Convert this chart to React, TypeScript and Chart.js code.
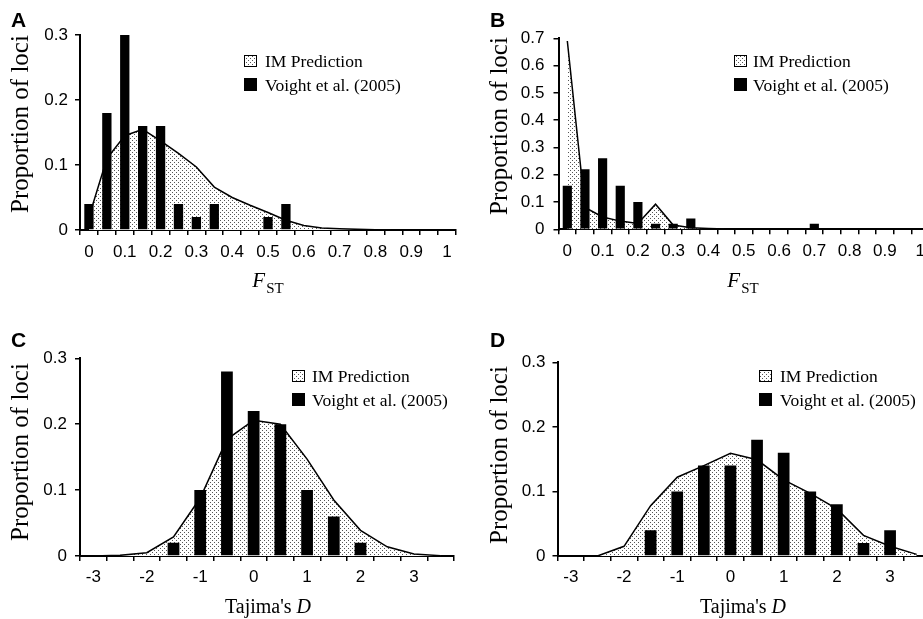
import React, { useEffect, useRef } from 'react';
import { Chart, registerables } from 'chart.js';

Chart.register(...registerables);

// ---------------- data ----------------
const fstCategories = ['0', '0.05', '0.1', '0.15', '0.2', '0.25', '0.3', '0.35', '0.4', '0.45', '0.5', '0.55', '0.6', '0.65', '0.7', '0.75', '0.8', '0.85', '0.9', '0.95', '1'];
const fstTickLabels = ['0', '', '0.1', '', '0.2', '', '0.3', '', '0.4', '', '0.5', '', '0.6', '', '0.7', '', '0.8', '', '0.9', '', '1'];

const tajCategories = ['-3', '-2.5', '-2', '-1.5', '-1', '-0.5', '0', '0.5', '1', '1.5', '2', '2.5', '3', '3.5'];
const tajTickLabels = ['-3', '', '-2', '', '-1', '', '0', '', '1', '', '2', '', '3', ''];

const voightA = [0.04, 0.18, 0.30, 0.16, 0.16, 0.04, 0.02, 0.04, 0, 0, 0.02, 0.04, 0, 0, 0, 0, 0, 0, 0, 0, 0];
const imA = [0.02, 0.11, 0.145, 0.155, 0.137, 0.118, 0.097, 0.066, 0.05, 0.038, 0.027, 0.015, 0.007, 0.003, 0.002, 0.001, 0.0005, 0, 0, 0, 0];

const voightB = [0.16, 0.22, 0.26, 0.16, 0.10, 0.02, 0.02, 0.04, 0, 0, 0, 0, 0, 0, 0.02, 0, 0, 0, 0, 0, 0];
const imB = [0.69, 0.08, 0.045, 0.03, 0.021, 0.092, 0.016, 0.006, 0.003, 0.001, 0, 0, 0, 0, 0, 0, 0, 0, 0, 0, 0];

const voightC = [0, 0, 0, 0.02, 0.10, 0.28, 0.22, 0.20, 0.10, 0.06, 0.02, 0, 0, 0];
const imC = [0, 0.001, 0.005, 0.029, 0.088, 0.177, 0.206, 0.20, 0.147, 0.085, 0.039, 0.014, 0.003, 0.0005];

const voightD = [0, 0, 0, 0.04, 0.10, 0.14, 0.14, 0.18, 0.16, 0.10, 0.08, 0.02, 0.04, 0];
const imD = [0, 0, 0.015, 0.078, 0.122, 0.14, 0.159, 0.149, 0.118, 0.097, 0.073, 0.032, 0.015, 0.0025];

const imLabel = 'IM Prediction';
const voightLabel = 'Voight et al. (2005)';
const yTitle = 'Proportion of loci';

// ---------------- layout ----------------
const CW = 940;
const CH = 619;
const YW = 40;
const XH = 30;
const SANS = '"Liberation Sans", Arial, Helvetica, sans-serif';
const SERIF = '"Liberation Serif", "Times New Roman", Times, serif';

type Panel = {
  letter: string; letterX: number; letterY: number;
  left: number; top: number; right: number; bottom: number;
  yMax: number; yPad: number; xPad: number;
  categories: string[]; tickLabels: string[];
  bars: number[]; im: number[]; barPct: number;
  yTitleX: number; yTitleY: number;
  xTitle: 'fst' | 'taj'; xTitleX: number; xTitleY: number;
  legBoxX: number; legRow1: number; legRow2: number; legTextX: number;
};

const panels: Panel[] = [
  {
    letter: 'A', letterX: 11, letterY: 27,
    left: 80, top: 35, right: 456, bottom: 230,
    yMax: 0.3, yPad: 7, xPad: 7,
    categories: fstCategories, tickLabels: fstTickLabels,
    bars: voightA, im: imA, barPct: 0.52,
    yTitleX: 28, yTitleY: 124,
    xTitle: 'fst', xTitleX: 268, xTitleY: 287,
    legBoxX: 244, legRow1: 55, legRow2: 78, legTextX: 265,
  },
  {
    letter: 'B', letterX: 490, letterY: 27,
    left: 558.5, top: 38.3, right: 929, bottom: 229.3,
    yMax: 0.7, yPad: 9, xPad: 7,
    categories: fstCategories, tickLabels: fstTickLabels,
    bars: voightB, im: imB, barPct: 0.52,
    yTitleX: 507, yTitleY: 126,
    xTitle: 'fst', xTitleX: 743, xTitleY: 287,
    legBoxX: 734, legRow1: 55, legRow2: 78, legTextX: 753,
  },
  {
    letter: 'C', letterX: 11, letterY: 347,
    left: 80, top: 358.3, right: 454, bottom: 556,
    yMax: 0.3, yPad: 8, xPad: 6,
    categories: tajCategories, tickLabels: tajTickLabels,
    bars: voightC, im: imC, barPct: 0.44,
    yTitleX: 28, yTitleY: 452,
    xTitle: 'taj', xTitleX: 268, xTitleY: 613,
    legBoxX: 292, legRow1: 370, legRow2: 393, legTextX: 312,
  },
  {
    letter: 'D', letterX: 490, letterY: 347,
    left: 557.5, top: 362.3, right: 930, bottom: 556,
    yMax: 0.3, yPad: 7, xPad: 6,
    categories: tajCategories, tickLabels: tajTickLabels,
    bars: voightD, im: imD, barPct: 0.44,
    yTitleX: 507, yTitleY: 455,
    xTitle: 'taj', xTitleX: 743, xTitleY: 613,
    legBoxX: 759, legRow1: 370, legRow2: 393, legTextX: 780,
  },
];

function makePattern(): CanvasPattern | string {
  const c = document.createElement('canvas');
  c.width = 4;
  c.height = 4;
  const g = c.getContext('2d');
  if (!g) return '#ccc';
  g.fillStyle = '#ffffff';
  g.fillRect(0, 0, 4, 4);
  g.fillStyle = '#555555';
  g.fillRect(0, 0, 1, 1);
  g.fillRect(2, 2, 1, 1);
  return g.createPattern(c, 'repeat') || '#ccc';
}

function decorPlugin(p: Panel, pattern: CanvasPattern | string) {
  return {
    id: 'decor' + p.letter,
    afterDraw(chart: any) {
      const ctx: CanvasRenderingContext2D = chart.ctx;
      ctx.save();
      ctx.fillStyle = '#000';
      ctx.textAlign = 'left';
      ctx.textBaseline = 'alphabetic';

      // panel letter
      ctx.font = 'bold 21px ' + SANS;
      ctx.fillText(p.letter, p.letterX, p.letterY);

      // y title
      ctx.save();
      ctx.translate(p.yTitleX, p.yTitleY);
      ctx.rotate(-Math.PI / 2);
      ctx.font = '25px ' + SERIF;
      ctx.textAlign = 'center';
      ctx.fillText(yTitle, 0, 0);
      ctx.restore();

      // x title
      if (p.xTitle === 'fst') {
        ctx.font = 'italic 21px ' + SERIF;
        const wF = ctx.measureText('F').width;
        ctx.font = '15px ' + SERIF;
        const wS = ctx.measureText('ST').width;
        const total = wF + 1 + wS;
        const x0 = p.xTitleX - total / 2;
        ctx.font = 'italic 21px ' + SERIF;
        ctx.fillText('F', x0, p.xTitleY);
        ctx.font = '15px ' + SERIF;
        ctx.fillText('ST', x0 + wF + 1, p.xTitleY + 6);
      } else {
        ctx.font = '20px ' + SERIF;
        const a = "Tajima's ";
        const wa = ctx.measureText(a).width;
        ctx.font = 'italic 20px ' + SERIF;
        const wd = ctx.measureText('D').width;
        const x0 = p.xTitleX - (wa + wd) / 2;
        ctx.font = '20px ' + SERIF;
        ctx.fillText(a, x0, p.xTitleY);
        ctx.font = 'italic 20px ' + SERIF;
        ctx.fillText('D', x0 + wa, p.xTitleY);
      }

      // legend
      const ds = chart.data.datasets;
      const lblIm = ds[1].label;
      const lblV = ds[0].label;
      ctx.fillStyle = pattern as any;
      ctx.fillRect(p.legBoxX, p.legRow1, 13, 12);
      ctx.strokeStyle = '#000';
      ctx.lineWidth = 1;
      ctx.strokeRect(p.legBoxX + 0.5, p.legRow1 + 0.5, 12, 11);
      ctx.fillStyle = '#000';
      ctx.fillRect(p.legBoxX, p.legRow2, 13, 13);
      ctx.font = '17.5px ' + SERIF;
      ctx.fillText(lblIm, p.legTextX, p.legRow1 + 12);
      ctx.fillText(lblV, p.legTextX, p.legRow2 + 13);
      ctx.restore();
    },
  };
}

function buildChart(canvas: HTMLCanvasElement, p: Panel) {
  const pattern = makePattern();
  const tickFont = { family: SANS, size: 17 };
  return new Chart(canvas, {
    type: 'bar',
    data: {
      labels: p.categories,
      datasets: [
        {
          type: 'bar',
          label: voightLabel,
          data: p.bars,
          backgroundColor: '#000',
          borderWidth: 0,
          barPercentage: p.barPct,
          categoryPercentage: 1,
          order: 0,
        } as any,
        {
          type: 'line',
          label: imLabel,
          data: p.im,
          borderColor: '#000',
          borderWidth: 1.5,
          backgroundColor: pattern,
          fill: 'origin',
          pointRadius: 0,
          tension: 0,
          order: 1,
        } as any,
      ],
    },
    options: {
      responsive: false,
      animation: false,
      devicePixelRatio: 1,
      events: [],
      layout: {
        padding: {
          left: p.left - YW,
          top: p.top,
          right: CW - p.right,
          bottom: CH - p.bottom - XH,
        },
      },
      plugins: {
        legend: { display: false },
        tooltip: { enabled: false },
        title: { display: false },
      },
      scales: {
        x: {
          type: 'category',
          offset: true,
          grid: {
            offset: true,
            drawOnChartArea: false,
            drawTicks: true,
            tickLength: 5,
            color: '#000',
            lineWidth: 1.5,
          },
          border: { display: true, color: '#000', width: 2 },
          ticks: {
            autoSkip: false,
            maxRotation: 0,
            minRotation: 0,
            padding: p.xPad,
            color: '#000',
            font: tickFont,
            callback: (_v: any, i: number) => p.tickLabels[i],
          },
          afterFit: (s: any) => { s.height = XH; },
        },
        y: {
          type: 'linear',
          min: 0,
          max: p.yMax,
          grid: {
            drawOnChartArea: false,
            drawTicks: true,
            tickLength: 5,
            color: '#000',
            lineWidth: 1.5,
          },
          border: { display: true, color: '#000', width: 2 },
          ticks: {
            stepSize: 0.1,
            padding: p.yPad,
            color: '#000',
            font: tickFont,
            callback: (v: any) => String(Math.round(Number(v) * 10) / 10),
          },
          afterFit: (s: any) => { s.width = YW; },
        },
      },
    } as any,
    plugins: [decorPlugin(p, pattern)],
  });
}

export default function App() {
  const refs = [
    useRef<HTMLCanvasElement>(null),
    useRef<HTMLCanvasElement>(null),
    useRef<HTMLCanvasElement>(null),
    useRef<HTMLCanvasElement>(null),
  ];

  useEffect(() => {
    const charts: Chart[] = [];
    panels.forEach((p, i) => {
      const c = refs[i].current;
      if (c) charts.push(buildChart(c, p));
    });
    return () => {
      charts.forEach((c) => c.destroy());
    };
  }, []);

  return (
    <div
      style={{
        position: 'absolute',
        left: 0,
        top: 0,
        width: 923,
        height: 619,
        overflow: 'hidden',
        background: '#fff',
      }}
    >
      {panels.map((p, i) => (
        <canvas
          key={p.letter}
          ref={refs[i]}
          width={CW}
          height={CH}
          style={{ position: 'absolute', left: 0, top: 0, width: CW, height: CH }}
        />
      ))}
    </div>
  );
}
